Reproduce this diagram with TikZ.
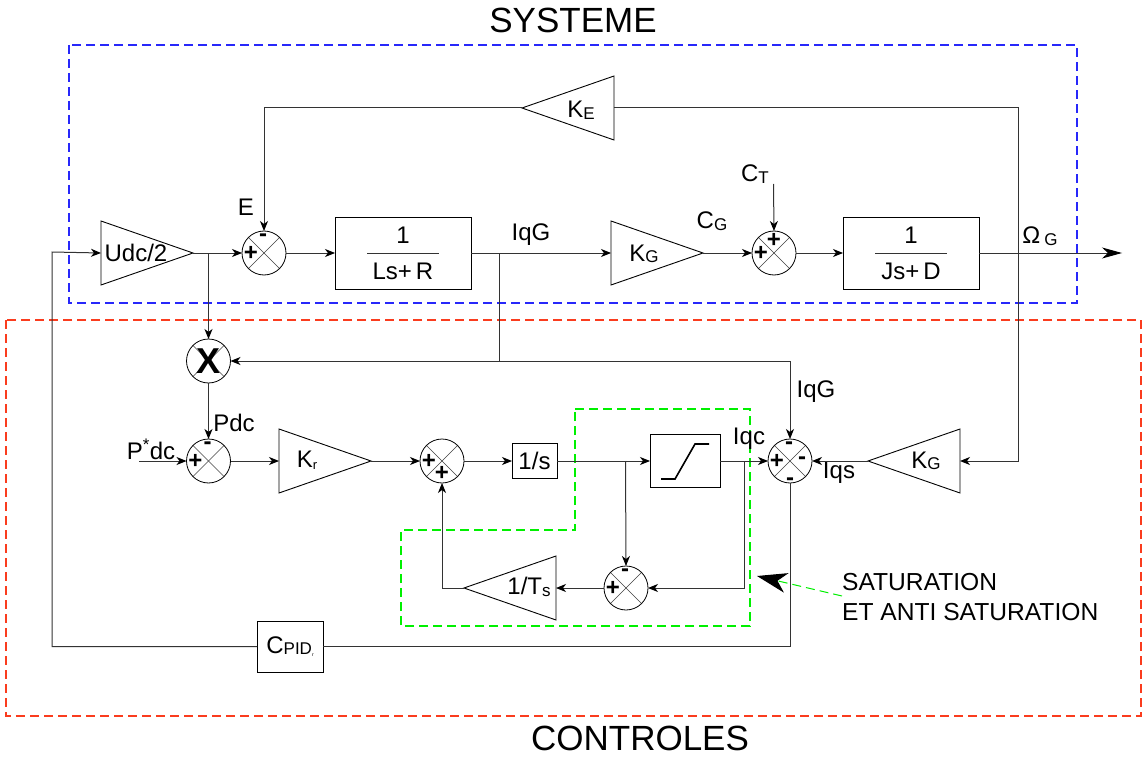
\documentclass[tikz,border=0pt]{standalone}
\usepackage{fontspec}
\setmainfont{Liberation Sans}
\usetikzlibrary{arrows.meta, positioning, shapes.geometric, calc}

\definecolor{sysblue}{RGB}{40,40,250}
\definecolor{ctrlred}{RGB}{250,60,30}
\definecolor{satgreen}{RGB}{0,240,0}

\newcommand{\lowsub}[1]{\raisebox{-1.5pt}{\fontsize{17}{17}\selectfont #1}}

\begin{document}
\begin{tikzpicture}[
    x=1pt, y=-1pt,
    lbl/.style={inner sep=0pt, font=\fontsize{24}{28}\selectfont},
    title/.style={inner sep=0pt, font=\fontsize{35}{38}\selectfont},
    sign/.style={inner sep=0pt, font=\bfseries\fontsize{24}{24}\selectfont},
    gain/.style={isosceles triangle, isosceles triangle stretches, draw, inner sep=0pt, outer sep=0pt, minimum width=64pt, minimum height=92pt, line width=0.9pt},
    gainleft/.style={gain, shape border rotate=180},
    block/.style={rectangle, draw, inner sep=0pt, outer sep=0pt, line width=0.9pt},
    fracbox/.style={block, minimum width=136pt, minimum height=72pt},
    sumx/.style={circle, draw, inner sep=0pt, outer sep=0pt, minimum size=44pt, line width=0.8pt, path picture={
        \draw[line width=0.6pt, black!75] (path picture bounding box.north west) -- (path picture bounding box.south east);
        \draw[line width=0.6pt, black!75] (path picture bounding box.north east) -- (path picture bounding box.south west);}},
    wire/.style={line width=1pt, black!80},
    arrow/.style={wire, -{Stealth[length=10pt, width=8pt, inset=3pt, black]}},
    zone/.style={line width=1.2pt, dash pattern=on 9pt off 5pt}
]
\useasboundingbox (0,0) rectangle (1144,757);

% Zones
\draw[zone, sysblue] (69,45) rectangle (1077,303);
\draw[zone, ctrlred] (6,320) rectangle (1141,716);
\draw[zone, satgreen] (575,409) -- (750,409) -- (750,626) -- (401,626) -- (401,530) -- (575,530) -- cycle;
\node[title] (TitleSys) at (573,20) {SYSTEME};
\node[title] (TitleCtrl) at (640,738) {CONTROLES};

% Top row (system)
\node[gain, anchor=lower side] (GainU) at (101,253) {};
\node[sumx, right=49pt of GainU.apex] (SumE) {};
\node[fracbox, right=49pt of SumE.east] (BoxL) {};
\node[gain, right=140pt of BoxL.east, anchor=lower side] (GainG) {};
\node[sumx, right=49pt of GainG.apex] (SumC) {};
\node[fracbox, right=47pt of SumC.east] (BoxJ) {};
\node[gainleft, anchor=apex] (GainE) at (522,108) {};
\coordinate (OutEnd) at (1122,253);
\coordinate (InT) at (773.5,184);

% Middle rows (control)
\node[sumx] (SumX) at (208.5,361) {};
\node[sumx] (SumP) at (208.5,461) {};
\coordinate (InP) at (139,461);
\node[gain, right=48.5pt of SumP.east, anchor=lower side] (GainR) {};
\node[sumx, right=49pt of GainR.apex] (SumI) {};
\node[block, minimum width=45pt, minimum height=35pt, right=48pt of SumI.east] (BoxI) {};
\node[block, minimum width=70pt, minimum height=53pt, right=93pt of BoxI.east] (BoxS) {};
\node[sumx, right=48pt of BoxS.east] (SumQ) {};
\node[gainleft, right=56pt of SumQ.east, anchor=apex] (GainS) {};
\node[sumx] (SumA) at (626,588) {};
\node[gainleft, left=48pt of SumA.west, anchor=lower side] (GainT) {};
\node[block, minimum width=66pt, minimum height=51pt] (BoxC) at (290,646.5) {};

% Junctions
\coordinate (JuncU) at (SumX.north |- GainU.apex);
\coordinate (JuncL) at (499,253);
\coordinate (JuncX) at (JuncL |- SumX.east);
\coordinate (JuncQ) at (SumQ.north |- SumX.east);
\coordinate (JuncO) at (1018,253);
\coordinate (JuncS) at (625.5,461);
\coordinate (JuncI) at (744,461);
\coordinate (JuncK) at (JuncO |- GainS.lower side);

% Labels in blocks
\node[lbl] (TxtU) at (136,253) {Udc/2};
\node[lbl] (TxtE) at (581,110) {K\lowsub{E}};
\node[lbl] (TxtG) at (644,254) {K\lowsub{G}};
\node[lbl] (TxtS) at (926,461) {K\lowsub{G}};
\node[lbl] (TxtR) at (307,460) {K\raisebox{-2pt}{\fontsize{13}{13}\selectfont r}};
\node[lbl] (TxtT) at (529,587) {1/T\lowsub{s}};
\node[lbl] (TxtI) at (BoxI) {1/s};
\node[lbl] (TxtC) at (BoxC) {C\lowsub{PID}\raisebox{-3pt}{\fontsize{5}{5}\selectfont r}};
\node[lbl] (TxtL1) at (403,235) {1};
\node[lbl] (TxtL2) at (403,271) {Ls+\,R};
\node[lbl] (TxtJ1) at (911,235) {1};
\node[lbl] (TxtJ2) at (911,271) {Js+\,D};
\draw[wire] ($(BoxL)+(-36,0)$) -- ($(BoxL)+(36,0)$);
\draw[wire] ($(BoxJ)+(-36,0)$) -- ($(BoxJ)+(36,0)$);
\node[lbl, font=\bfseries\fontsize{36}{36}\selectfont] (TxtX) at (SumX) {X};
\draw[line width=1.6pt] ($(BoxS)+(-24,18)$) -- ($(BoxS)+(-10,18)$) -- ($(BoxS)+(10,-17)$) -- ($(BoxS)+(24,-17)$);

% Signs
\node[sign] at ($(SumE)+(-13,0)$) {+};
\node[sign] at ($(SumE)+(-1,-15)$) {-};
\node[sign] at ($(SumC)+(-13,0)$) {+};
\node[sign] at ($(SumC)+(0,-13)$) {+};
\node[sign] at ($(SumP)+(-13,0)$) {+};
\node[sign] at ($(SumP)+(-1,-15)$) {-};
\node[sign] at ($(SumI)+(-13,0)$) {+};
\node[sign] at ($(SumI)+(0,12)$) {+};
\node[sign] at ($(SumQ)+(-13,0)$) {+};
\node[sign] at ($(SumQ)+(-1,-15)$) {-};
\node[sign] at ($(SumQ)+(12,0)$) {-};
\node[sign] at ($(SumQ)+(0,21)$) {-};
\node[sign] at ($(SumA)+(-13,0)$) {+};
\node[sign] at ($(SumA)+(-1,-15)$) {-};

% Signal labels
\node[lbl] (LabE) at (246,207) {E};
\node[lbl] (LabIqL) at (531,235) {IqG};
\node[lbl] (LabCG) at (712,221) {C\lowsub{G}};
\node[lbl] (LabCT) at (755,174) {C\lowsub{T}};
\node[lbl] (LabOm) at (1040,236) {Ω\,\lowsub{G}};
\node[lbl] (LabPdc) at (234,423) {Pdc};
\node[lbl] (LabPs) at (151,449) {P\textsuperscript{*}dc};
\node[lbl] (LabIqG) at (816,392) {IqG};
\node[lbl] (LabIqc) at (749,439) {Iqc};
\node[lbl] (LabIqs) at (839,473) {Iqs};
\node[lbl, font=\fontsize{24.6}{28}\selectfont, anchor=west, align=left] (LabSat) at (842,597) {SATURATION\\[2pt]ET ANTI SATURATION};

% Connectors, top row
\draw[arrow] (GainU.apex) -- (SumE.west);
\draw[arrow] (SumE.east) -- (BoxL.west);
\draw[arrow] (BoxL.east) -- (GainG.lower side);
\draw[arrow] (GainG.apex) -- (SumC.west);
\draw[arrow] (SumC.east) -- (BoxJ.west);
\draw[wire, -{Stealth[length=20pt, width=11pt, inset=6pt, black]}] (BoxJ.east) -- (OutEnd);
\draw[arrow] (InT) -- (SumC.north);
\draw[arrow] (GainE.apex) -| (SumE.north);
\draw[arrow] (GainE.lower side) -| (JuncK) -- (GainS.lower side);

% Connectors, control
\draw[arrow] (JuncU) -- (SumX.north);
\draw[wire] (JuncL) -- (JuncX);
\draw[arrow] (JuncQ) -- (SumX.east);
\draw[arrow] (JuncQ) -- (SumQ.north);
\draw[arrow] (SumX.south) -- (SumP.north);
\draw[arrow] (InP) -- (SumP.west);
\draw[arrow] (SumP.east) -- (GainR.lower side);
\draw[arrow] (GainR.apex) -- (SumI.west);
\draw[arrow] (SumI.east) -- (BoxI.west);
\draw[arrow] (BoxI.east) -- (BoxS.west);
\draw[arrow] (BoxS.east) -- (SumQ.west);
\draw[arrow] (GainS.apex) -- (SumQ.east);
\draw[arrow] (JuncS) -- (SumA.north);
\draw[arrow] (JuncI) |- (SumA.east);
\draw[arrow] (SumA.west) -- (GainT.lower side);
\draw[arrow] (GainT.apex) -| (SumI.south);
\draw[wire] (SumQ.south) |- (BoxC.east);
\draw[arrow] (BoxC.west) -| (52,252) -- (GainU.lower side);

% Pointer to the saturation loop
\coordinate (PtrTail) at (842,596);
\coordinate (PtrTip) at (757,576);
\draw[line width=1pt, satgreen, dash pattern=on 9pt off 5pt, -{Stealth[length=30pt, width=20pt, inset=9pt, black]}] (PtrTail) -- (PtrTip);

\end{tikzpicture}
\end{document}
